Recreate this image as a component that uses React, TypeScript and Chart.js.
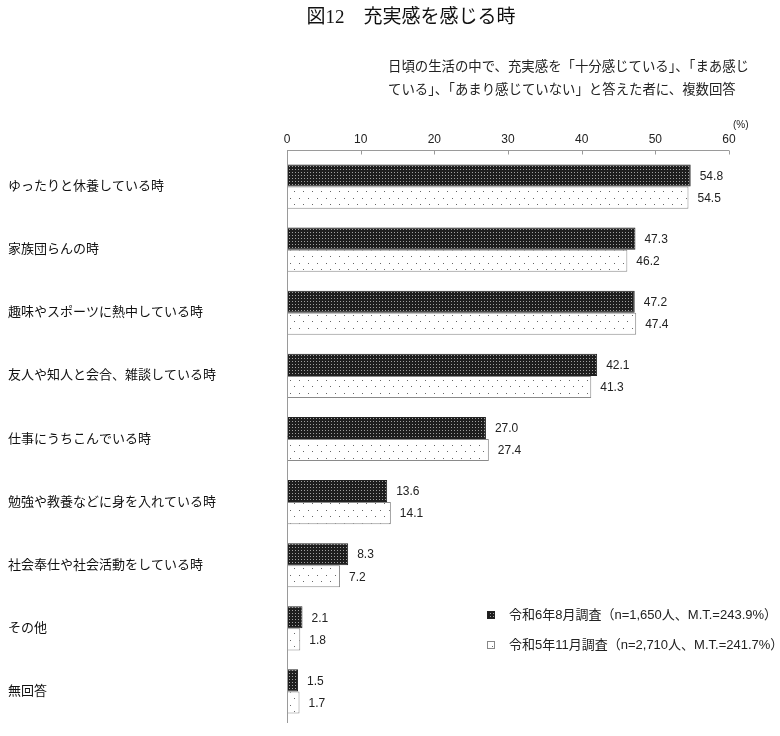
import React, { useEffect, useRef } from "react";
import { Chart, registerables } from "chart.js";

Chart.register(...registerables);

const categories = [
  "ゆったりと休養している時",
  "家族団らんの時",
  "趣味やスポーツに熱中している時",
  "友人や知人と会合、雑談している時",
  "仕事にうちこんでいる時",
  "勉強や教養などに身を入れている時",
  "社会奉仕や社会活動をしている時",
  "その他",
  "無回答",
];
const seriesR6 = [54.8, 47.3, 47.2, 42.1, 27.0, 13.6, 8.3, 2.1, 1.5];
const seriesR5 = [54.5, 46.2, 47.4, 41.3, 27.4, 14.1, 7.2, 1.8, 1.7];
const legendLabels = [
  "令和6年8月調査（n=1,650人、M.T.=243.9%）",
  "令和5年11月調査（n=2,710人、M.T.=241.7%）",
];
const xTicks = [0, 10, 20, 30, 40, 50, 60];
const titleText = "図12　充実感を感じる時";
const subtitleLines = [
  "日頃の生活の中で、充実感を「十分感じている」、「まあ感じ",
  "ている」、「あまり感じていない」と答えた者に、複数回答",
];

const SANS = '"Liberation Sans", "Noto Sans CJK JP", sans-serif';
const SERIF = '"Liberation Serif", "Noto Sans CJK JP", serif';

function makeDarkPattern(): CanvasPattern | string {
  const c = document.createElement("canvas");
  c.width = 3;
  c.height = 3;
  const g = c.getContext("2d");
  if (!g) return "#333";
  g.fillStyle = "#1e1e1e";
  g.fillRect(0, 0, 3, 3);
  g.fillStyle = "#a0a0a0";
  g.fillRect(1, 1, 1, 1);
  return g.createPattern(c, "repeat") || "#333";
}

function makeLightPattern(): CanvasPattern | string {
  const c = document.createElement("canvas");
  c.width = 9;
  c.height = 13;
  const g = c.getContext("2d");
  if (!g) return "#fff";
  g.fillStyle = "#ffffff";
  g.fillRect(0, 0, 9, 13);
  g.fillStyle = "#666";
  g.fillRect(2, 3, 1, 1);
  g.fillRect(6, 9, 1, 1);
  return g.createPattern(c, "repeat") || "#fff";
}

export default function App() {
  const ref = useRef<HTMLCanvasElement | null>(null);

  useEffect(() => {
    if (!ref.current) return;
    const dark = makeDarkPattern();
    const light = makeLightPattern();

    const decor = {
      id: "decor",
      afterDraw(chart: any) {
        const ctx = chart.ctx;
        const area = chart.chartArea;
        const xs = chart.scales.x;
        ctx.save();
        // title
        ctx.fillStyle = "#111";
        ctx.font = "19px " + SERIF;
        ctx.textAlign = "center";
        ctx.textBaseline = "middle";
        ctx.fillText(titleText, 411, 18);
        // subtitle
        ctx.font = "13.4px " + SERIF;
        ctx.textAlign = "left";
        ctx.fillStyle = "#222";
        ctx.fillText(subtitleLines[0], 388, 67);
        ctx.fillText(subtitleLines[1], 388, 90);
        // (%)
        ctx.font = "10px " + SANS;
        ctx.fillText("(%)", 733, 125);
        // axes lines
        ctx.strokeStyle = "#9a9a9a";
        ctx.lineWidth = 1;
        ctx.beginPath();
        const ay = 150.5;
        ctx.moveTo(area.left, ay);
        ctx.lineTo(area.right, ay);
        xTicks.forEach((t) => {
          const px = Math.round(xs.getPixelForValue(t)) + 0.5;
          ctx.moveTo(px, ay);
          ctx.lineTo(px, ay + 4);
        });
        const lx = Math.round(area.left) + 0.5;
        ctx.moveTo(lx, ay);
        ctx.lineTo(lx, area.bottom);
        ctx.stroke();
        // value labels
        ctx.fillStyle = "#222";
        ctx.font = "12px " + SANS;
        ctx.textAlign = "left";
        ctx.textBaseline = "middle";
        chart.data.datasets.forEach((ds: any, di: number) => {
          const meta = chart.getDatasetMeta(di);
          meta.data.forEach((bar: any, i: number) => {
            const v = ds.data[i] as number;
            ctx.fillText(v.toFixed(1), bar.x + 9, bar.y + 1);
          });
        });
        // legend
        const rows = [615, 645];
        ctx.font = "13px " + SANS;
        rows.forEach((ry, i) => {
          ctx.fillStyle = i === 0 ? dark : light;
          ctx.fillRect(488, ry - 3, 6, 6);
          ctx.strokeStyle = i === 0 ? "#222" : "#888";
          ctx.strokeRect(487.5, ry - 3.5, 7, 7);
          ctx.fillStyle = "#222";
          ctx.fillText(legendLabels[i], 509, ry);
        });
        ctx.restore();
      },
    };

    const chart = new Chart(ref.current, {
      type: "bar",
      data: {
        labels: categories,
        datasets: [
          {
            label: legendLabels[0],
            data: seriesR6,
            backgroundColor: dark as any,
            borderColor: "#222",
            borderWidth: 1,
          },
          {
            label: legendLabels[1],
            data: seriesR5,
            backgroundColor: light as any,
            borderColor: "#8a8a8a",
            borderWidth: 1,
          },
        ],
      },
      options: {
        indexAxis: "y",
        responsive: false,
        animation: false,
        devicePixelRatio: 1,
        datasets: {
          bar: { categoryPercentage: 0.7, barPercentage: 1.0 },
        },
        layout: { padding: { left: 8, right: 51, top: 0, bottom: 13 } },
        plugins: {
          legend: { display: false },
          tooltip: { enabled: false },
          title: { display: false },
        },
        scales: {
          x: {
            position: "top",
            min: 0,
            max: 60,
            afterFit: (s: any) => {
              s.height = 155;
            },
            afterBuildTicks: (s: any) => {
              s.ticks = xTicks.map((v) => ({ value: v }));
            },
            grid: { display: false, drawTicks: false, tickLength: 0 },
            border: { display: false },
            ticks: {
              padding: 8,
              color: "#222",
              font: { family: SANS, size: 12 },
              maxRotation: 0,
            },
          },
          y: {
            afterFit: (s: any) => {
              s.width = 279;
            },
            grid: { display: false, drawTicks: false, tickLength: 0 },
            border: { display: false },
            ticks: {
              crossAlign: "far",
              padding: 0,
              color: "#111",
              font: { family: SANS, size: 13 },
            },
          },
        },
      },
      plugins: [decor],
    } as any);

    return () => chart.destroy();
  }, []);

  return (
    <div style={{ position: "absolute", left: 0, top: 0, width: 780, height: 736, background: "#fff" }}>
      <canvas ref={ref} width={780} height={736} style={{ width: 780, height: 736 }} />
    </div>
  );
}
